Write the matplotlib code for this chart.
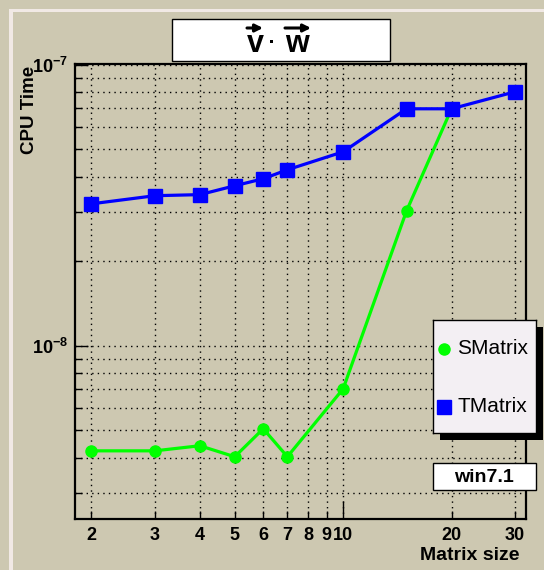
import matplotlib
matplotlib.use("Agg")
import matplotlib.pyplot as plt
from matplotlib.patches import Rectangle, FancyArrowPatch
from matplotlib.ticker import FixedLocator, FixedFormatter, NullFormatter

plt.rcParams["font.family"] = ["Liberation Sans", "DejaVu Sans"]
plt.rcParams["mathtext.fontset"] = "custom"
plt.rcParams["mathtext.rm"] = "Liberation Sans"
plt.rcParams["mathtext.bf"] = "Liberation Sans:bold"
plt.rcParams["mathtext.default"] = "bf"

# timing results, seconds per call
sizes_t = [2, 3, 4, 5, 6, 7, 10, 15, 20, 30]
tmatrix = [3.20e-8, 3.42e-8, 3.45e-8, 3.71e-8, 3.93e-8, 4.23e-8, 4.90e-8,
           6.97e-8, 6.97e-8, 8.01e-8]
sizes_s = [2, 3, 4, 5, 6, 7, 10, 15, 20]
smatrix = [4.23e-9, 4.23e-9, 4.41e-9, 4.03e-9, 5.07e-9, 4.03e-9, 7.03e-9,
           3.02e-8, 6.97e-8]

x_major = [10]
x_minor = [2, 3, 4, 5, 6, 7, 8, 9, 20, 30]
y_major = [1e-8, 1e-7]
y_minor = [m * 1e-9 for m in range(3, 10)] + [m * 1e-8 for m in range(2, 10)]

BG = "#cdc8b1"
W, H = 544, 570


def box(x0, y0, x1, y1):
    """pixel box (top-left origin) -> figure fraction rect"""
    return [x0 / W, 1 - y1 / H, (x1 - x0) / W, (y1 - y0) / H]


def fpt(x, y):
    return (x / W, 1 - y / H)


fig = plt.figure(figsize=(W / 100, H / 100), dpi=100, facecolor=BG)

# canvas bevel
fig.add_artist(Rectangle((9 / W, 0), 4 / W, 1 - 9 / H, transform=fig.transFigure,
                         facecolor="#f1e9e5", edgecolor="none", zorder=0))
fig.add_artist(Rectangle((9 / W, 1 - 12 / H), 1, 3 / H, transform=fig.transFigure,
                         facecolor="#f1e9e5", edgecolor="none", zorder=0))

ax = fig.add_axes(box(75, 64, 526, 519), facecolor=BG, zorder=1)
ax.set_xscale("log")
ax.set_yscale("log")

ax.plot(sizes_s, smatrix, color="#00ff00", lw=2.3, marker="o", ms=8,
        label="SMatrix", zorder=3)
ax.plot(sizes_t, tmatrix, color="#0000ff", lw=2.3, marker="s", ms=9.5,
        label="TMatrix", zorder=4)

ax.set_xlim(1.80, 32.2)
ax.set_ylim(2.42e-9, 1.006e-7)

ax.xaxis.set_major_locator(FixedLocator(x_major))
ax.xaxis.set_minor_locator(FixedLocator(x_minor))
ax.xaxis.set_major_formatter(FixedFormatter([str(v) for v in x_major]))
ax.xaxis.set_minor_formatter(FixedFormatter([str(v) for v in x_minor]))
ax.yaxis.set_major_locator(FixedLocator(y_major))
ax.yaxis.set_minor_locator(FixedLocator(y_minor))
ax.yaxis.set_major_formatter(FixedFormatter([r"$10^{-8}$", r"$10^{-7}$"]))
ax.yaxis.set_minor_formatter(NullFormatter())

ax.tick_params(axis="both", which="both", direction="in", colors="black",
               width=1, labelsize=13)
ax.tick_params(axis="x", which="major", length=13, pad=6)
ax.tick_params(axis="x", which="minor", length=6, pad=6)
ax.tick_params(axis="y", which="major", length=9.5, pad=5)
ax.tick_params(axis="y", which="minor", length=5)
for lab in ax.get_xticklabels(which="both"):
    lab.set_fontweight("bold")

ax.grid(True, which="both", color="black", linestyle=(0, (1, 3)), lw=1)
for s in ax.spines.values():
    s.set_linewidth(1.6)
    s.set_color("black")

fig.text(519 / W, 1 - 555 / H, "Matrix size", ha="right", va="center",
         fontsize=14, fontweight="bold")
fig.text(30 / W, 1 - 66 / H, "CPU Time", ha="center", va="top", rotation=90,
         fontsize=13.5, fontweight="bold")

# title box: bold v . w with vector arrows
fig.add_artist(Rectangle(box(172, 19, 390, 61)[:2], 218 / W, 42 / H,
                         transform=fig.transFigure, facecolor="white",
                         edgecolor="black", lw=1, zorder=2))
fig.text(*fpt(255, 52), "v", ha="center", va="baseline", fontsize=22,
         fontweight="bold", zorder=3)
fig.text(*fpt(297, 52), "w", ha="center", va="baseline", fontsize=22,
         fontweight="bold", zorder=3)
fig.add_artist(Rectangle(fpt(270, 43), 3 / W, 3 / H, transform=fig.transFigure,
                         facecolor="black", edgecolor="none", zorder=3))
for x0, x1 in [(247, 263), (285, 311)]:
    fig.add_artist(FancyArrowPatch(fpt(x0, 28), fpt(x1, 28),
                                   transform=fig.transFigure,
                                   arrowstyle="-|>", mutation_scale=11,
                                   lw=2.2, color="black", shrinkA=0,
                                   shrinkB=0, zorder=3))

# legend with drop shadow
fig.add_artist(Rectangle(box(440, 327, 543, 440)[:2], 103 / W, 113 / H,
                         transform=fig.transFigure, facecolor="black",
                         edgecolor="none", zorder=5))
leg = fig.add_axes(box(433, 320, 536, 433), facecolor="#f3eff3", zorder=6)
leg.set_xlim(0, 103)
leg.set_ylim(113, 0)
leg.set_xticks([])
leg.set_yticks([])
for s in leg.spines.values():
    s.set_linewidth(1)
    s.set_color("black")
leg.plot([11], [29], marker="o", ms=8, color="#00ff00", ls="none")
leg.plot([11], [87], marker="s", ms=9.5, color="#0000ff", ls="none")
leg.text(24, 29, "SMatrix", va="center", ha="left", fontsize=15)
leg.text(24, 87, "TMatrix", va="center", ha="left", fontsize=15)

# build tag
fig.add_artist(Rectangle(box(433, 463, 536, 490)[:2], 103 / W, 27 / H,
                         transform=fig.transFigure, facecolor="white",
                         edgecolor="black", lw=1, zorder=5))
fig.text(484 / W, 1 - 477 / H, "win7.1", ha="center", va="center",
         fontsize=14, fontweight="bold", zorder=6)

fig.savefig("out.png", dpi=100, facecolor=BG)
